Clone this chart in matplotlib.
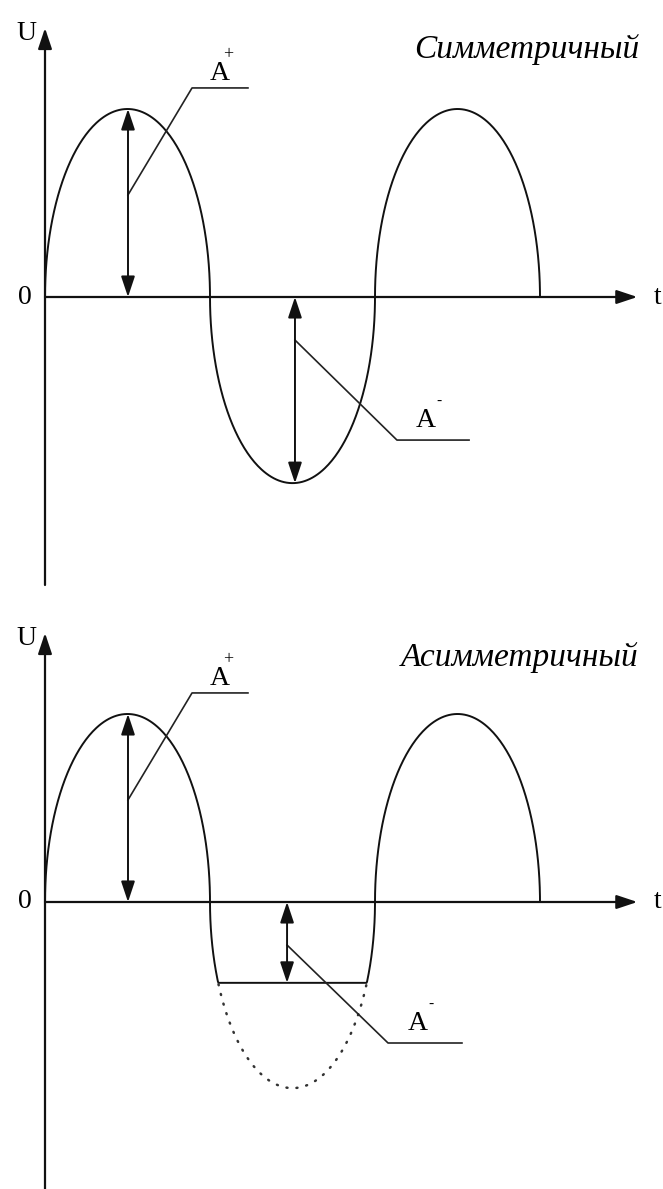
import numpy as np
import matplotlib.pyplot as plt

# half-period boundaries and lobe peaks (units: half-period, amplitude)
lobe_starts = [0.0, 1.0, 2.0]
lobe_peaks = [1.0, -0.99, 1.0]
clip_level = -0.43          # lower panel: negative half cut here
titles = ["Симметричный", "Асимметричный"]

W, H = 663, 1189
px_x, px_y = 165.0, 188.0   # pixels per unit
x0_px = 45.0

fig = plt.figure(figsize=(W / 100, H / 100), dpi=100)

serif = "Liberation Serif"
lw_axis = 1.6
lw_curve = 1.4


def half_lobe(start, peak, n=200):
    th = np.linspace(0, np.pi, n)
    x = start + 0.5 - 0.5 * np.cos(th)
    y = peak * np.sin(th)
    return x, y


def panel(rect_px, zero_px, axis_bottom_px, arrow_tip_px, title, title_y, clip=None):
    top, bottom = rect_px
    ax = fig.add_axes([0, 1 - bottom / H, 1, (bottom - top) / H])
    ax.set_xlim(-x0_px / px_x, (W - x0_px) / px_x)
    ax.set_ylim(-(bottom - zero_px) / px_y, (zero_px - top) / px_y)
    ax.axis("off")

    # axes with arrows
    y_lo = -(axis_bottom_px - zero_px) / px_y
    y_hi = (zero_px - arrow_tip_px) / px_y
    arr = dict(arrowstyle="-|>,head_length=0.9,head_width=0.3", color="#111111",
               lw=lw_axis, shrinkA=0, shrinkB=0, mutation_scale=14)
    ax.annotate("", xy=(0, y_hi), xytext=(0, y_lo), arrowprops=arr)
    ax.annotate("", xy=(3.59, 0), xytext=(0, 0), arrowprops=arr)
    ax.text(-0.11, 1.40, "U", family=serif, fontsize=20, ha="center", va="center")
    ax.text(-0.12, 0.0, "0", family=serif, fontsize=20, ha="center", va="center")
    ax.text(3.71, 0.0, "t", family=serif, fontsize=20, ha="center", va="center")
    ax.text(3.60, title_y, title, family=serif, style="italic", fontsize=24,
            ha="right", va="center")

    # waveform
    for s, p in zip(lobe_starts, lobe_peaks):
        x, y = half_lobe(s, p)
        if clip is not None and p < 0:
            ax.plot(x, np.maximum(y, clip), color="#111111", lw=lw_curve)
            m = y < clip
            ax.plot(x[m], y[m], color="#333333", lw=1.8,
                    ls=(0, (0.4, 3.6)), dash_capstyle="round")
        else:
            ax.plot(x, y, color="#111111", lw=lw_curve)

    darr = dict(arrowstyle="<|-|>,head_length=0.9,head_width=0.3", color="#111111",
                lw=1.4, shrinkA=0, shrinkB=0, mutation_scale=14)
    # A+ marker
    ax.annotate("", xy=(0.503, 0), xytext=(0.503, lobe_peaks[0]), arrowprops=darr)
    ax.plot([0.503, 0.891, 1.23], [0.543, 1.112, 1.112], color="#222222", lw=1.2)
    ax.text(1.06, 1.19, "A", family=serif, fontsize=20, ha="center", va="center")
    ax.text(1.11, 1.29, "+", family=serif, fontsize=13, ha="center", va="center")

    # A- marker
    if clip is None:
        ax.annotate("", xy=(1.515, 0), xytext=(1.515, lobe_peaks[1]), arrowprops=darr)
        ax.plot([1.515, 2.133, 2.57], [-0.229, -0.761, -0.761], color="#222222", lw=1.2)
        lx, ly = 2.31, -0.655
    else:
        ax.annotate("", xy=(1.467, 0), xytext=(1.467, clip), arrowprops=darr)
        ax.plot([1.467, 2.079, 2.527], [-0.229, -0.75, -0.75], color="#222222", lw=1.2)
        lx, ly = 2.261, -0.644
    ax.text(lx, ly, "A", family=serif, fontsize=20, ha="center", va="center")
    ax.text(lx + 0.075, ly + 0.1, "-", family=serif, fontsize=11, ha="center", va="center")
    return ax


panel((0, 595), 297, 585, 28, titles[0], 1.314)
panel((605, 1189), 902, 1189, 633, titles[1], 1.298, clip=clip_level)

fig.savefig("out.png", dpi=100, facecolor="white")
